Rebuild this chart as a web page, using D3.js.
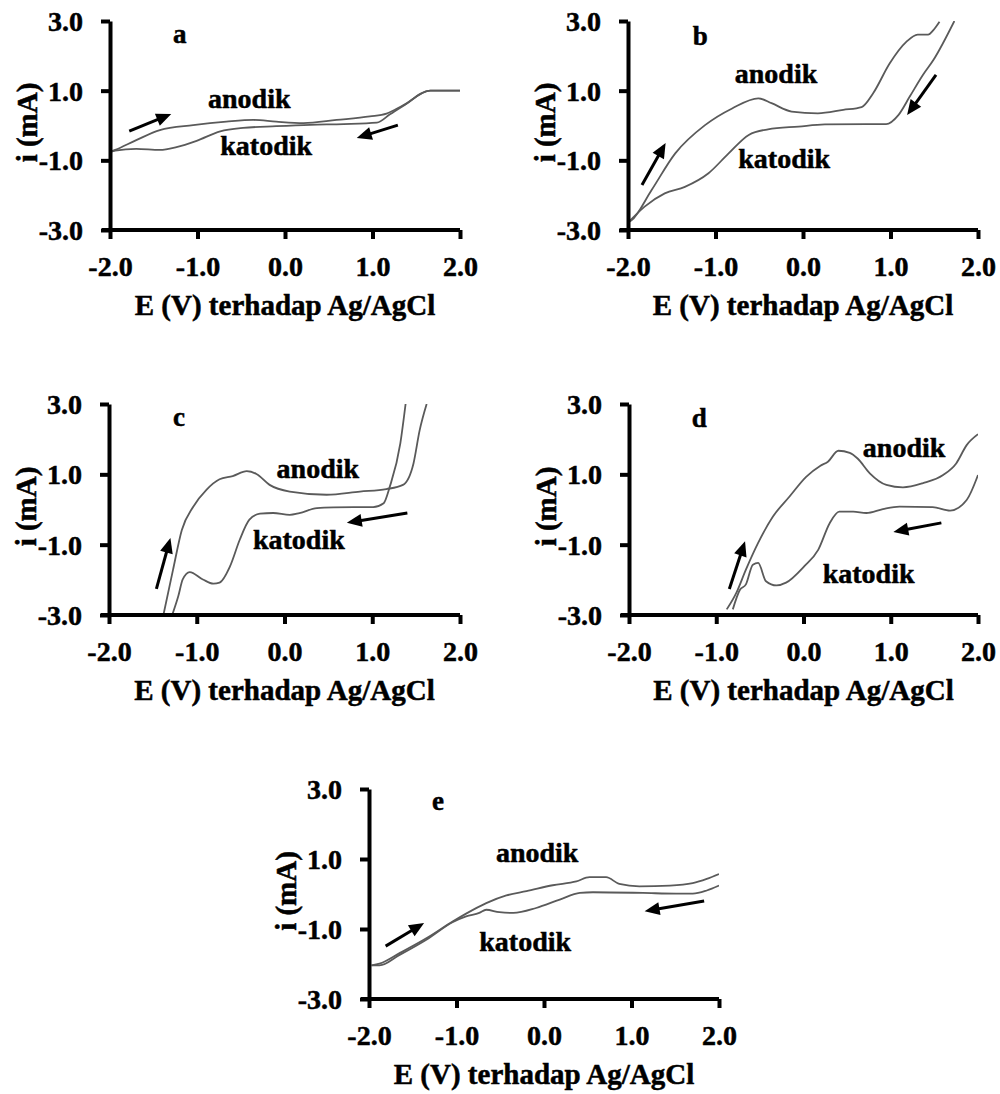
<!DOCTYPE html>
<html>
<head>
<meta charset="utf-8">
<script src="https://cdn.jsdelivr.net/npm/d3@7"></script>
<style>
  html, body { margin: 0; padding: 0; background: #fff; }
  svg text { font-family: 'Liberation Serif', 'Times New Roman', serif; font-weight: bold; fill: #000; stroke: #000; stroke-width: 0.5px; }
</style>
</head>
<body>
<div id="chart"></div>
<script>
// ---------------------------------------------------------------------------
// Data: cyclic voltammograms, [E (V vs Ag/AgCl), i (mA)]
// ---------------------------------------------------------------------------
const xTicks = [-2, -1, 0, 1, 2];
const yTicks = [3, 1, -1, -3];
const panelNames = ['a', 'b', 'c', 'd', 'e'];
const xTitle = 'E (V) terhadap Ag/AgCl';
const yTitle = 'i (mA)';

const aAnodik = [[-2.0,-0.76],[-1.94,-0.70],[-1.70,-0.42],[-1.43,-0.13],[-1.05,0.01],[-0.67,0.11],[-0.36,0.16],[-0.10,0.11],[0.21,0.07],[0.59,0.16],[0.97,0.26],[1.16,0.34],[1.35,0.58],[1.66,1.0],[2.0,1.0]];
const aKatodik = [[2.0,1.0],[1.66,1.0],[1.35,0.56],[1.2,0.32],[1.05,0.08],[0.67,0.04],[0.29,0.02],[-0.10,-0.02],[-0.48,-0.07],[-0.74,-0.17],[-1.01,-0.44],[-1.24,-0.62],[-1.43,-0.70],[-1.70,-0.67],[-1.94,-0.72],[-2.0,-0.76]];

const bAnodik = [[-2.0,-2.78],[-1.96,-2.72],[-1.73,-1.85],[-1.46,-0.80],[-1.12,0.01],[-0.81,0.49],[-0.51,0.78],[-0.36,0.64],[-0.13,0.40],[0.17,0.35],[0.46,0.45],[0.67,0.53],[0.8,0.92],[0.99,1.78],[1.18,2.4],[1.31,2.61],[1.43,2.61],[1.49,2.74],[1.56,2.98]];
const bKatodik = [[1.73,3.0],[1.49,1.88],[1.37,1.45],[1.22,0.83],[1.09,0.3],[0.95,0.04],[0.72,0.04],[0.25,0.03],[-0.05,-0.03],[-0.40,-0.11],[-0.62,-0.27],[-0.85,-0.80],[-1.08,-1.37],[-1.35,-1.76],[-1.58,-1.95],[-1.81,-2.33],[-1.98,-2.74]];

const cAnodik = [[-1.38,-3.0],[-1.27,-1.71],[-1.17,-0.58],[-1.04,0.08],[-0.89,0.56],[-0.74,0.86],[-0.59,0.95],[-0.43,1.09],[-0.32,1.01],[-0.17,0.7],[0.06,0.51],[0.48,0.42],[0.86,0.51],[1.16,0.58],[1.35,0.7],[1.47,1.31],[1.54,2.25],[1.62,3.0]];
const cKatodik = [[1.38,3.0],[1.32,1.88],[1.2,0.65],[1.13,0.18],[1.01,0.07],[0.56,0.06],[0.37,0.04],[0.17,-0.1],[0.06,-0.15],[-0.13,-0.1],[-0.28,-0.12],[-0.4,-0.29],[-0.51,-0.86],[-0.62,-1.61],[-0.74,-2.08],[-0.81,-2.11],[-0.93,-1.99],[-1.08,-1.78],[-1.16,-1.99],[-1.21,-2.46],[-1.28,-3.0]];

const dAnodik = [[-0.88,-2.84],[-0.77,-2.37],[-0.66,-1.71],[-0.52,-0.95],[-0.35,-0.2],[-0.16,0.37],[0.03,0.93],[0.19,1.24],[0.28,1.36],[0.4,1.67],[0.53,1.61],[0.62,1.45],[0.76,1.03],[0.95,0.7],[1.14,0.63],[1.37,0.75],[1.6,0.98],[1.75,1.31],[1.87,1.83],[2.0,2.14]];
const dKatodik = [[2.0,0.98],[1.87,0.27],[1.68,-0.03],[1.48,0.07],[1.1,0.08],[0.91,0.01],[0.72,-0.1],[0.57,-0.06],[0.41,-0.06],[0.3,-0.39],[0.17,-1.14],[0.01,-1.61],[-0.2,-2.08],[-0.31,-2.16],[-0.43,-2.04],[-0.52,-1.52],[-0.58,-1.57],[-0.66,-2.13],[-0.73,-2.29],[-0.81,-2.84]];

const eAnodik = [[-1.97,-2.04],[-1.88,-1.99],[-1.65,-1.69],[-1.34,-1.26],[-1.04,-0.78],[-0.89,-0.56],[-0.66,-0.26],[-0.43,-0.04],[-0.2,0.08],[0.1,0.25],[0.37,0.36],[0.52,0.48],[0.71,0.48],[0.86,0.29],[1.09,0.22],[1.44,0.24],[1.7,0.31],[1.86,0.43],[2.0,0.57]];
const eKatodik = [[2.0,0.24],[1.86,0.1],[1.7,0.01],[1.51,0.01],[1.13,0.03],[0.56,0.05],[0.41,0.03],[0.18,-0.16],[-0.09,-0.4],[-0.35,-0.54],[-0.51,-0.52],[-0.66,-0.45],[-0.74,-0.54],[-0.89,-0.64],[-1.04,-0.8],[-1.34,-1.3],[-1.65,-1.74],[-1.88,-2.04],[-1.97,-2.04]];

const anodikSeries = [aAnodik, bAnodik, cAnodik, dAnodik, eAnodik];
const katodikSeries = [aKatodik, bKatodik, cKatodik, dKatodik, eKatodik];

// ---------------------------------------------------------------------------
// Layout: pixel frame of each panel, plus annotation anchors (in data units)
// ---------------------------------------------------------------------------
const frames = [
  { left: 110, right: 460, top: 21,  bottom: 230 },
  { left: 628, right: 978, top: 21,  bottom: 230 },
  { left: 109, right: 460, top: 404, bottom: 615 },
  { left: 629, right: 978, top: 404, bottom: 615 },
  { left: 369, right: 719, top: 789, bottom: 999 }
];
const annotations = [
  { letter: [-1.28, 2.37], anodik: [-0.88, 0.50], katodik: [-0.74, -0.85],
    arrows: [[[-1.78, -0.16], [-1.30, 0.33]], [[1.29, 0.01], [0.82, -0.36]]] },
  { letter: [-1.26, 2.31], anodik: [-0.78, 1.22], katodik: [-0.74, -1.22],
    arrows: [[[-1.84, -1.71], [-1.57, -0.50]], [[1.52, 1.45], [1.19, 0.30]]] },
  { letter: [-1.27, 2.37], anodik: [-0.09, 0.90], katodik: [-0.36, -1.12],
    arrows: [[[-1.46, -2.26], [-1.30, -0.81]], [[1.40, -0.10], [0.71, -0.38]]] },
  { letter: [-1.28, 2.35], anodik: [0.68, 1.49], katodik: [0.22, -2.09],
    arrows: [[[-0.85, -2.26], [-0.67, -0.90]], [[1.58, -0.38], [1.03, -0.64]]] },
  { letter: [-1.28, 2.40], anodik: [-0.55, 0.91], katodik: [-0.74, -1.63],
    arrows: [[[-1.81, -1.49], [-1.37, -0.83]], [[1.83, -0.20], [1.15, -0.49]]] }
];

const W = 1000, H = 1094;
const svg = d3.select('#chart').append('svg')
  .attr('width', W).attr('height', H)
  .attr('viewBox', `0 0 ${W} ${H}`);

const fmt = d => d.toFixed(1);

frames.forEach((f, k) => {
  const x = d3.scaleLinear().domain([-2, 2]).range([f.left, f.right]);
  const y = d3.scaleLinear().domain([-3, 3]).range([f.bottom, f.top]);
  const g = svg.append('g');

  // clip curves to the plotting area
  const clipId = 'clip-' + k;
  svg.append('clipPath').attr('id', clipId)
    .append('rect')
    .attr('x', f.left).attr('y', f.top)
    .attr('width', f.right - f.left).attr('height', f.bottom - f.top);

  // each branch runs one way along E, so a monotone-x curve keeps it smooth
  const line = d3.line()
    .x(d => x(d[0])).y(d => y(d[1]))
    .curve(d3.curveMonotoneX);

  const curves = g.append('g').attr('clip-path', `url(#${clipId})`);
  [anodikSeries[k], katodikSeries[k]].forEach(s => {
    curves.append('path')
      .attr('d', line(s))
      .attr('fill', 'none')
      .attr('stroke', '#5a5a5a')
      .attr('stroke-width', 1.8)
      .attr('stroke-linejoin', 'round');
  });

  // x axis
  const xa = g.append('g')
    .attr('transform', `translate(0,${f.bottom})`)
    .call(d3.axisBottom(x).tickValues(xTicks).tickFormat(fmt).tickSizeInner(9).tickSizeOuter(0));
  xa.select('.domain').attr('stroke', '#000').attr('stroke-width', 4)
    .attr('d', `M${f.left - 8},0H${f.right}`);
  xa.selectAll('.tick line').attr('stroke', '#000').attr('stroke-width', 4);
  xa.selectAll('.tick text')
    .attr('y', 46).attr('dy', 0)
    .style('font-size', '28px');

  // y axis
  const ya = g.append('g')
    .attr('transform', `translate(${f.left},0)`)
    .call(d3.axisLeft(y).tickValues(yTicks).tickFormat(fmt).tickSizeInner(9).tickSizeOuter(0));
  ya.select('.domain').attr('stroke', '#000').attr('stroke-width', 4);
  ya.selectAll('.tick line').attr('stroke', '#000').attr('stroke-width', 4);
  ya.selectAll('.tick text')
    .attr('x', -27).attr('dy', '0.34em')
    .style('font-size', '28px');

  // axis titles
  g.append('text')
    .attr('x', (f.left + f.right) / 2).attr('y', f.bottom + 85)
    .attr('text-anchor', 'middle')
    .style('font-size', '29px')
    .text(xTitle);
  g.append('text')
    .attr('transform', `translate(${f.left - 73},${(f.top + f.bottom) / 2 - 3}) rotate(-90)`)
    .attr('text-anchor', 'middle')
    .style('font-size', '29px')
    .text(yTitle);

  // panel letter and branch labels
  const a = annotations[k];
  g.append('text').attr('x', x(a.letter[0])).attr('y', y(a.letter[1]))
    .style('font-size', '27px').text(panelNames[k]);
  g.append('text').attr('x', x(a.anodik[0])).attr('y', y(a.anodik[1]))
    .style('font-size', '28px').text('anodik');
  g.append('text').attr('x', x(a.katodik[0])).attr('y', y(a.katodik[1]))
    .style('font-size', '28px').text('katodik');

  // scan-direction arrows
  a.arrows.forEach(([p0, p1]) => {
    const x0 = x(p0[0]), y0 = y(p0[1]), x1 = x(p1[0]), y1 = y(p1[1]);
    const ang = Math.atan2(y1 - y0, x1 - x0);
    const hl = 15, hw = 6.5;
    const bx = x1 - hl * Math.cos(ang), by = y1 - hl * Math.sin(ang);
    g.append('line')
      .attr('x1', x0).attr('y1', y0)
      .attr('x2', bx + 2 * Math.cos(ang)).attr('y2', by + 2 * Math.sin(ang))
      .attr('stroke', '#000').attr('stroke-width', 3);
    const px = -Math.sin(ang), py = Math.cos(ang);
    g.append('path')
      .attr('d', `M${x1},${y1}L${bx + hw * px},${by + hw * py}L${bx - hw * px},${by - hw * py}Z`)
      .attr('fill', '#000');
  });
});
</script>
</body>
</html>
